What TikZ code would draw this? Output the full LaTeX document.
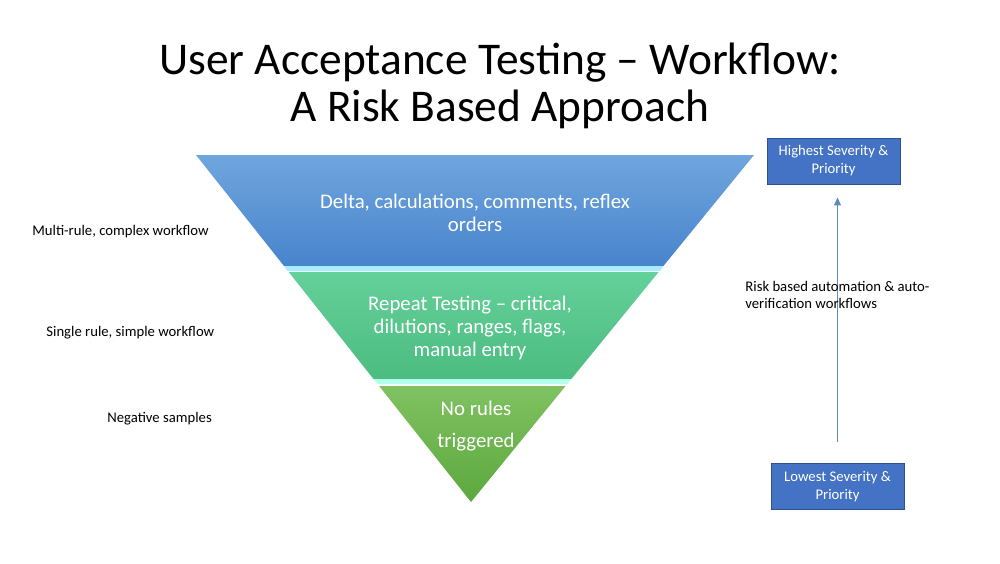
\documentclass[tikz,border=0pt]{standalone}
\usepackage{fontspec}
\setmainfont{Carlito}
\usepackage{xcolor}
\usepackage{tikz}
\usetikzlibrary{arrows.meta,positioning}
\definecolor{blueTop}{RGB}{112,166,222}
\definecolor{blueBot}{RGB}{72,132,204}
\definecolor{greenTop}{RGB}{100,208,154}
\definecolor{greenBot}{RGB}{76,188,128}
\definecolor{lgreenTop}{RGB}{128,194,98}
\definecolor{lgreenBot}{RGB}{92,168,62}
\definecolor{boxFill}{RGB}{68,114,196}
\definecolor{boxLine}{RGB}{47,82,143}
\definecolor{arrowCol}{RGB}{96,138,186}

\begin{document}
\begin{tikzpicture}[x=0.5pt,y=-0.5pt,
  funtext/.style={text=white,align=center,font=\fontsize{10.4}{11.6}\selectfont},
  sidetext/.style={font=\fontsize{7.35}{8.5}\selectfont,anchor=west,inner sep=0pt},
  sevbox/.style={draw=boxLine,fill=boxFill,text=white,align=center,minimum width=66.5pt,
    minimum height=23pt,inner sep=0pt,font=\fontsize{7.35}{9}\selectfont}]
  \useasboundingbox[fill=white] (0,0) rectangle (1000,563);
  % title
  \node[align=center,font=\fontsize{22.7}{23.5}\selectfont] (title) at (500,86)
    {User Acceptance Testing -- Workflow:\\A Risk Based Approach};
  % funnel
  \shade[top color=blueTop,bottom color=blueBot] (196,155) -- (754,155) -- (663.4,266) -- (284,266) -- cycle;
  \fill[blue!20!cyan!35] (284,266) -- (663.4,266) -- (660,271) -- (287.5,271) -- cycle;
  \shade[top color=greenTop,bottom color=greenBot] (288.7,272) -- (658.6,272) -- (571.3,379) -- (373.5,379) -- cycle;
  \fill[green!25!cyan!30] (373.5,379) -- (571.3,379) -- (567.3,384) -- (377.5,384) -- cycle;
  \shade[top color=lgreenTop,bottom color=lgreenBot] (379.1,386) -- (565.6,386) -- (471,502) -- cycle;
  \node[funtext] (delta) at (475,213) {Delta, calculations, comments, reflex\\orders};
  \node[funtext] (repeat) at (470,328) {Repeat Testing -- critical,\\dilutions, ranges, flags,\\manual entry};
  \node[funtext,font=\fontsize{10.4}{16}\selectfont] (norules) at (476,426) {No rules\\triggered};
  % left labels
  \node[sidetext] (multi) at (32,232) {Multi-rule, complex workflow};
  \node[sidetext] (single) at (46,333) {Single rule, simple workflow};
  \node[sidetext] (negative) at (107,419) {Negative samples};
  % right side
  \node[sevbox] (high) at (833.5,161) {Highest Severity \&\\Priority};
  \node[sevbox] (low) at (837.5,486.5) {Lowest Severity \&\\Priority};
  \draw[arrowCol,line width=0.75pt,-{Triangle[length=4pt,width=3.4pt]},
    shorten <=10.5pt,shorten >=6.5pt] (low.north) -- (low.north |- high.south);
  \node[sidetext,anchor=north west,align=left,font=\fontsize{7.35}{8.5}\selectfont] (risk) at (745,281)
    {Risk based automation \& auto-\\verification workflows};
\end{tikzpicture}
\end{document}
